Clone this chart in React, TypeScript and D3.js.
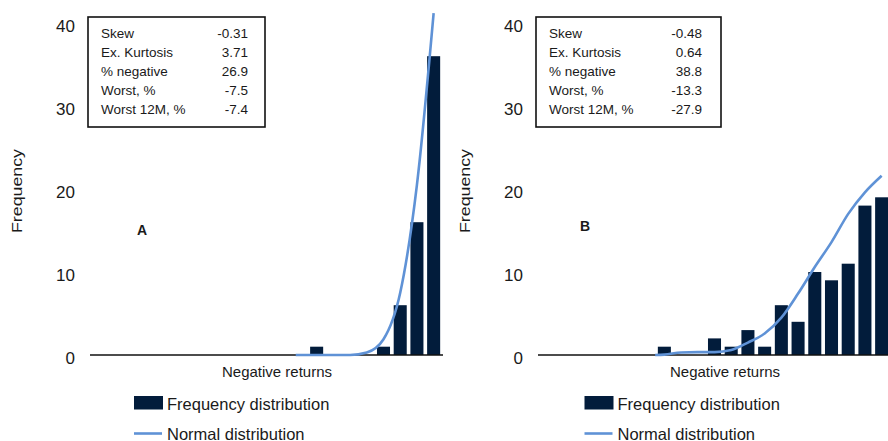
import React from "react";
import * as d3 from "d3";

// ---- data ----
const bins = [0, 1, 2, 3, 4, 5, 6, 7, 8, 9, 10, 11, 12, 13, 14, 15, 16, 17, 18, 19, 20];
const freqA = [0, 0, 0, 0, 0, 0, 0, 0, 0, 0, 0, 0, 0, 1, 0, 0, 0, 1, 6, 16, 36];
const freqB = [0, 0, 0, 0, 0, 0, 0, 1, 0, 0, 2, 1, 3, 1, 6, 4, 10, 9, 11, 18, 19];
const normalAX = [11.75, 12, 13, 14, 15, 16, 17, 18, 19, 20];
const normalAY = [0, 0, 0, 0, 0, 0.3, 1.9, 7.5, 20.5, 41.2];
const normalBX = [6.45, 7, 8, 9, 10, 11, 12, 13, 14, 15, 16, 17, 18, 19, 20];
const normalBY = [0, 0.05, 0.3, 0.35, 0.35, 0.6, 1.5, 2.6, 4.5, 7.4, 10.6, 13.6, 17, 19.6, 21.6];
const yTicks = [0, 10, 20, 30, 40];
const statLabels = ["Skew", "Ex. Kurtosis", "% negative", "Worst, %", "Worst 12M, %"];
const statsA = ["-0.31", "3.71", "26.9", "-7.5", "-7.4"];
const statsB = ["-0.48", "0.64", "38.8", "-13.3", "-27.9"];
const panelNames = ["A", "B"];
const xTitle = "Negative returns";
const yTitle = "Frequency";
const legendBar = "Frequency distribution";
const legendLine = "Normal distribution";

// ---- style ----
const BAR = "#021c3b";
const LINE = "#5f92d6";
const TEXT = "#1a1a1a";
const FONT = "'Liberation Sans', Arial, sans-serif";

const panels = [
  { name: panelNames[0], freq: freqA, nx: normalAX, ny: normalAY, stats: statsA, ox: 0, boxW: 177, valX: 248, lab: [137, 235], leg: 0 },
  { name: panelNames[1], freq: freqB, nx: normalBX, ny: normalBY, stats: statsB, ox: 448, boxW: 185, valX: 254, lab: [132, 231], leg: 2.5 },
];

const x = d3.scaleBand<number>().domain(bins).range([91, 442]).paddingInner(0.22).paddingOuter(0.11);
const xc = d3.scaleLinear().domain([0, 20]).range([91 + x.step() / 2, 442 - x.step() / 2]);
const y = d3.scaleLinear().domain([0, 40]).range([355, 23]);

function Panel({ p, i }: { p: any; i: number }) {
  const line = d3
    .line<number>()
    .x((_, k) => xc(p.nx[k]))
    .y((v) => y(v))
    .curve(d3.curveMonotoneX);
  const clipId = `clip${i}`;
  return (
    <g transform={`translate(${p.ox},0)`} fontFamily={FONT} fill={TEXT}>
      <defs>
        <clipPath id={clipId}>
          <rect x={85} y={10} width={370} height={348} />
        </clipPath>
      </defs>
      {yTicks.map((t) => (
        <text key={t} x={75} y={y(t) + 9} textAnchor="end" fontSize={17}>
          {t}
        </text>
      ))}
      <text
        transform={`translate(22,191) rotate(-90)`}
        textAnchor="middle"
        fontSize={15}
        textLength={84}
        lengthAdjust="spacingAndGlyphs"
      >
        {yTitle}
      </text>
      <g clipPath={`url(#${clipId})`}>
        {bins.map((b) =>
          p.freq[b] > 0 ? (
            <rect key={b} x={x(b)} width={x.bandwidth()} y={y(p.freq[b])} height={y(0) - y(p.freq[b])} fill={BAR} />
          ) : null
        )}
      </g>
      <line x1={90} x2={443} y1={y(0)} y2={y(0)} stroke="#111" strokeWidth={1.6} />
      <g clipPath={`url(#${clipId})`}>
        <path d={line(p.ny) || ""} fill="none" stroke={LINE} strokeWidth={2.6} />
      </g>
      <rect x={88} y={17} width={p.boxW} height={110} fill="white" stroke="#111" strokeWidth={1.6} />
      {statLabels.map((s, k) => (
        <g key={s} fontSize={13.5}>
          <text x={101} y={38 + 19 * k}>{s}</text>
          <text x={p.valX} y={38 + 19 * k} textAnchor="end">{p.stats[k]}</text>
        </g>
      ))}
      <text x={p.lab[0]} y={p.lab[1]} fontSize={14} fontWeight="bold">
        {p.name}
      </text>
      <text x={277} y={377} textAnchor="middle" fontSize={15}>
        {xTitle}
      </text>
      <g transform={`translate(${p.leg},0)`}>
        <rect x={134} y={396} width={29} height={13.5} fill={BAR} />
        <text x={167} y={410} fontSize={16.5}>{legendBar}</text>
        <line x1={134} x2={162} y1={433.5} y2={433.5} stroke={LINE} strokeWidth={2.6} />
        <text x={167} y={439.5} fontSize={16.5}>{legendLine}</text>
      </g>
    </g>
  );
}

export default function App() {
  return (
    <svg
      width={888}
      height={441}
      style={{ position: "absolute", left: 0, top: 0, background: "white" }}
    >
      <rect width={888} height={441} fill="white" />
      {panels.map((p, i) => (
        <Panel key={p.name} p={p} i={i} />
      ))}
    </svg>
  );
}
